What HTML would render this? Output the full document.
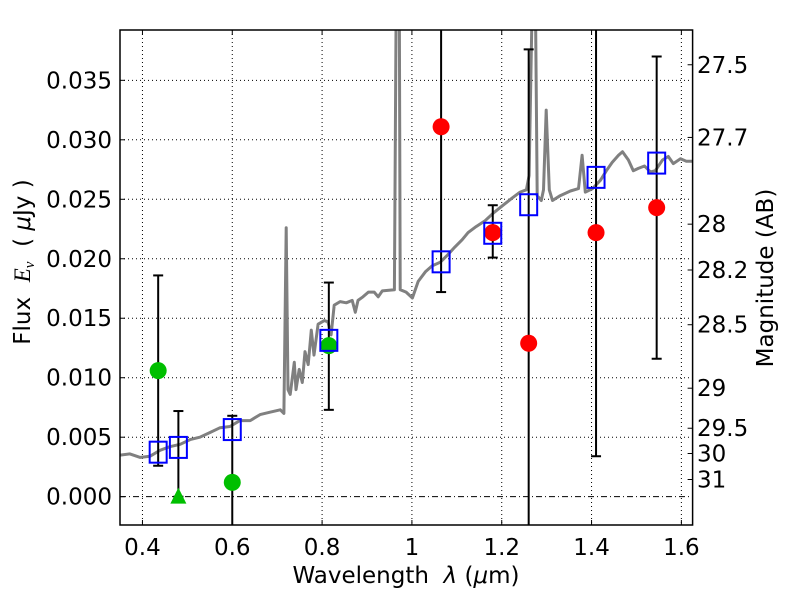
<!DOCTYPE html>
<html><head><meta charset="utf-8">
<style>
html,body{margin:0;padding:0;background:#fff;}
svg{display:block;font-family:"DejaVu Sans","Liberation Sans",sans-serif;}
</style></head>
<body>
<svg id="chart" width="800" height="600" viewBox="0 0 800 600" xmlns="http://www.w3.org/2000/svg">
<defs><clipPath id="plotclip"><rect x="120" y="30" width="572.6" height="495"/></clipPath></defs>
<rect x="0" y="0" width="800" height="600" fill="#fff"/>
<g id="grid"></g>
<g id="marks" clip-path="url(#plotclip)"></g>
<g id="axes"></g>
<text x="406" y="583" font-size="23" text-anchor="middle">Wavelength&#160;&#160;<tspan font-style="italic">λ</tspan>&#160;(<tspan font-style="italic">μ</tspan>m)</text>
<text transform="translate(30,262) rotate(-90)" font-size="23" text-anchor="middle">Flux&#160;&#160;<tspan font-style="italic" font-family="Liberation Serif, serif">E<tspan font-size="15" dy="4">ν</tspan></tspan><tspan dy="-4">&#160;&#160;(&#160;</tspan><tspan font-style="italic">μ</tspan>Jy&#160;)</text>
<text transform="translate(773,278) rotate(-90)" font-size="23" text-anchor="middle">Magnitude (AB)</text>
</svg>
<script>
const xTicks = [0.4, 0.6, 0.8, 1.0, 1.2, 1.4, 1.6];
const xTickLabels = ["0.4","0.6","0.8","1","1.2","1.4","1.6"];
const yTicks = [0, 0.005, 0.010, 0.015, 0.020, 0.025, 0.030, 0.035];
const yTickLabels = ["0.000","0.005","0.010","0.015","0.020","0.025","0.030","0.035"];
const magTicks = [27.5, 27.7, 28, 28.2, 28.5, 29, 29.5, 30, 31];
const magTickLabels = ["27.5","27.7","28","28.2","28.5","29","29.5","30","31"];

const specWave = [0.350,0.372,0.395,0.417,0.439,0.461,0.484,0.506,0.528,0.551,0.573,0.595,0.617,0.640,0.662,0.684,0.707,0.715,0.720,0.724,0.729,0.738,0.742,0.749,0.756,0.762,0.769,0.776,0.782,0.791,0.805,0.813,0.820,0.827,0.840,0.854,0.867,0.874,0.880,0.891,0.903,0.916,0.925,0.934,0.961,0.965,0.972,0.974,0.987,1.001,1.014,1.030,1.045,1.063,1.079,1.096,1.112,1.125,1.143,1.163,1.183,1.203,1.223,1.241,1.255,1.261,1.268,1.275,1.279,1.288,1.293,1.299,1.306,1.313,1.330,1.353,1.371,1.379,1.386,1.402,1.420,1.433,1.446,1.460,1.469,1.482,1.493,1.504,1.518,1.531,1.542,1.558,1.571,1.582,1.598,1.611,1.625];
const specFlux = [0.0035,0.0036,0.0033,0.0034,0.0039,0.0042,0.0044,0.0048,0.0050,0.0054,0.0058,0.0059,0.0064,0.0064,0.0069,0.0071,0.0073,0.0070,0.0226,0.0090,0.0086,0.0113,0.0090,0.0107,0.0096,0.0122,0.0111,0.0140,0.0119,0.0145,0.0148,0.0147,0.0136,0.0161,0.0164,0.0163,0.0165,0.0155,0.0165,0.0168,0.0172,0.0172,0.0168,0.0173,0.0174,0.0420,0.0420,0.0174,0.0172,0.0167,0.0181,0.0189,0.0194,0.0197,0.0203,0.0210,0.0216,0.0222,0.0227,0.0232,0.0239,0.0245,0.0251,0.0256,0.0258,0.0270,0.0420,0.0420,0.0253,0.0249,0.0258,0.0325,0.0258,0.0249,0.0253,0.0257,0.0259,0.0287,0.0256,0.0259,0.0266,0.0274,0.0281,0.0287,0.0290,0.0283,0.0274,0.0276,0.0278,0.0273,0.0274,0.0283,0.0286,0.0280,0.0284,0.0282,0.0282];

const errWave = [0.435,0.48,0.60,0.815,1.065,1.18,1.26,1.41,1.545];
const errLow  = [0.0026,0.0,-0.010,0.0073,0.0172,0.0201,-0.010,0.0034,0.0116];
const errHigh = [0.0186,0.0072,0.0068,0.0180,0.050,0.0245,0.0376,0.050,0.0370];

const modelWave = [0.435,0.48,0.60,0.815,1.065,1.18,1.26,1.41,1.545];
const modelFlux = [0.0037,0.0041,0.0056,0.0131,0.0197,0.0221,0.0245,0.0268,0.0280];

const redWave = [1.065,1.18,1.26,1.41,1.545];
const redFlux = [0.0311,0.0222,0.0129,0.0222,0.0243];

const greenWave = [0.435,0.60,0.815];
const greenFlux = [0.0106,0.0012,0.0127];

const limitWave = [0.48];
const limitFlux = [0.0];

const X0=120, X1=692.6, Y0=525, Y1=30;
const xMin=0.35, xMax=1.625, yMin=-0.00238, yMax=0.03923;
function sx(v){return X0+(v-xMin)/(xMax-xMin)*(X1-X0);}
function sy(v){return Y0-(v-yMin)/(yMax-yMin)*(Y0-Y1);}
function magToFlux(m){return Math.pow(10,(23.9-m)/2.5);}

const NS="http://www.w3.org/2000/svg";
function mk(tag,attrs,parent){const e=document.createElementNS(NS,tag);for(const k in attrs)e.setAttribute(k,attrs[k]);parent.appendChild(e);return e;}
const grid=document.getElementById('grid'), marks=document.getElementById('marks'), axes=document.getElementById('axes');

xTicks.forEach((t,i)=>{
  const x=sx(t);
  const g=mk('line',{x1:x,x2:x,y1:Y1,y2:Y0,stroke:'#000','stroke-width':1,'stroke-dasharray':'1,3'},grid);
  
  
  const tk=mk('line',{x1:x,x2:x,y1:Y0,y2:Y0-5,stroke:'#000','stroke-width':1},axes);
  
  
  mk('line',{x1:x,x2:x,y1:Y1,y2:Y1+5,stroke:'#000','stroke-width':1},axes);
  const tx=mk('text',{x:x,y:555,'font-size':23,'text-anchor':'middle'},axes);
  tx.textContent=xTickLabels[i];
  
  
});
yTicks.forEach((t,i)=>{
  const y=sy(t);
  const g=mk('line',{x1:X0,x2:X1,y1:y,y2:y,stroke:'#000','stroke-width':1,'stroke-dasharray':t===0?'6,3,1,3':'1,3'},grid);
  
  
  const tk=mk('line',{x1:X0,x2:X0+5,y1:y,y2:y,stroke:'#000','stroke-width':1},axes);
  
  
  const tx=mk('text',{x:112,y:y+8,'font-size':23,'text-anchor':'end'},axes);
  tx.textContent=yTickLabels[i];
  
  
});
magTicks.forEach((m,i)=>{
  const y=sy(magToFlux(m));
  const tk=mk('line',{x1:X1-5,x2:X1,y1:y,y2:y,stroke:'#000','stroke-width':1},axes);
  
  
  const tx=mk('text',{x:697,y:y+8,'font-size':23,'text-anchor':'start'},axes);
  tx.textContent=magTickLabels[i];
  
  
});

let d='';
specWave.forEach((w,i)=>{d+=(i?'L':'M')+sx(w).toFixed(1)+','+sy(specFlux[i]).toFixed(1);});
const sp=mk('path',{d:d,fill:'none',stroke:'#808080','stroke-width':3,'stroke-linejoin':'round'},marks);



errWave.forEach((w,i)=>{
  const x=sx(w), yl=sy(errLow[i]), yh=sy(errHigh[i]);
  const l=mk('line',{x1:x,x2:x,y1:yl,y2:yh,stroke:'#000','stroke-width':2},marks);
  
  
  mk('line',{x1:x-5,x2:x+5,y1:yl,y2:yl,stroke:'#000','stroke-width':2},marks);
  mk('line',{x1:x-5,x2:x+5,y1:yh,y2:yh,stroke:'#000','stroke-width':2},marks);
});
greenWave.forEach((w,i)=>{
  const c=mk('circle',{cx:sx(w),cy:sy(greenFlux[i]),r:8.5,fill:'#00bf00'},marks);
  
  
});
limitWave.forEach((w,i)=>{
  const x=sx(w), y=sy(limitFlux[i]);
  const t=mk('polygon',{points:`${x},${y-9} ${x-8},${y+7} ${x+8},${y+7}`,fill:'#00bf00'},marks);
  
  
});
redWave.forEach((w,i)=>{
  const c=mk('circle',{cx:sx(w),cy:sy(redFlux[i]),r:8.5,fill:'#ff0000'},marks);
  
  
});
modelWave.forEach((w,i)=>{
  const r=mk('rect',{x:sx(w)-8.5,y:sy(modelFlux[i])-11,width:17,height:21,fill:'none',stroke:'#0000ff','stroke-width':2},marks);
  
  
});
const fr=mk('rect',{x:X0,y:Y1,width:X1-X0,height:Y0-Y1,fill:'none',stroke:'#000','stroke-width':1.5},axes);


</script>
</body></html>
